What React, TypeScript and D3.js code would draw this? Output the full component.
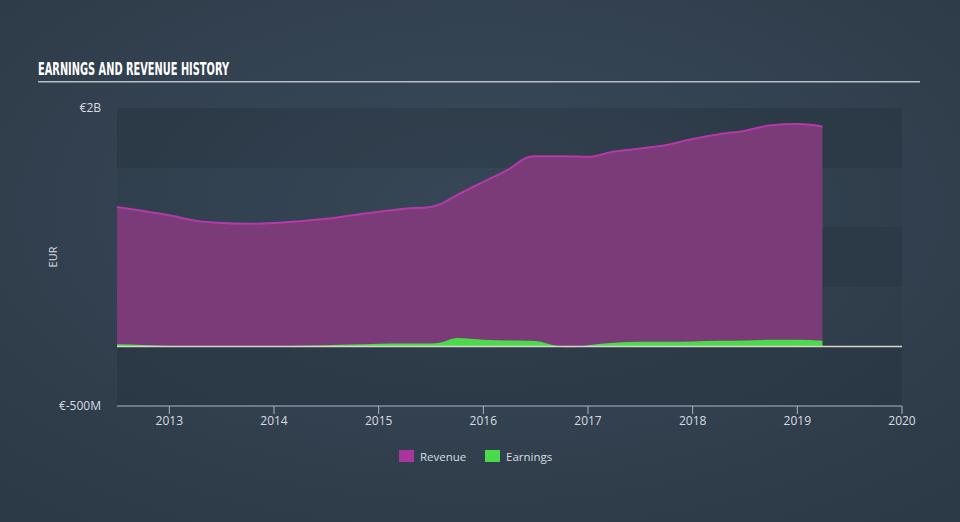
import React from "react";
import * as d3 from "d3";

const dates: number[] = [2012.5, 2012.75, 2013.0, 2013.25, 2013.5, 2013.75, 2014.0, 2014.25, 2014.5, 2014.75, 2015.0, 2015.25, 2015.5, 2015.58, 2015.75, 2016.0, 2016.25, 2016.42, 2016.5, 2016.7, 2016.83, 2017.0, 2017.25, 2017.5, 2017.75, 2018.0, 2018.25, 2018.5, 2018.75, 2019.0, 2019.24];
const revenue: number[] = [1.17, 1.135, 1.1, 1.055, 1.035, 1.028, 1.035, 1.05, 1.07, 1.1, 1.13, 1.155, 1.17, 1.19, 1.27, 1.38, 1.49, 1.585, 1.595, 1.596, 1.594, 1.59, 1.635, 1.66, 1.69, 1.74, 1.78, 1.81, 1.855, 1.865, 1.845];
const earnings: number[] = [0.018, 0.012, 0.003, -0.003, -0.006, -0.006, 0.0, 0.005, 0.01, 0.015, 0.022, 0.025, 0.025, 0.03, 0.07, 0.055, 0.05, 0.048, 0.046, 0.005, -0.008, 0.01, 0.03, 0.038, 0.04, 0.042, 0.047, 0.05, 0.055, 0.056, 0.048];
const yTicks: number[] = [2, -0.5];
const yTickLabels: string[] = ["€2B", "€-500M"];
const xTicks: number[] = [2013, 2014, 2015, 2016, 2017, 2018, 2019, 2020];
const bandEdges: number[] = [2, 1.5, 1, 0.5, 0, -0.5];
const legendItems: string[] = ["Revenue", "Earnings"];

export default function App() {
  const W = 960, H = 522;
  const x = d3.scaleLinear().domain([2012.5, 2020]).range([117, 902]);
  const y = d3.scaleLinear().domain([-0.5, 2]).range([406, 108]);
  const pts = dates.map((d, i) => ({ d, r: revenue[i], e: earnings[i] }));
  const curve = d3.curveMonotoneX;
  const revArea = d3.area<any>().x(p => x(p.d)).y0(y(0)).y1(p => y(p.r)).curve(curve)(pts) || "";
  const revLine = d3.line<any>().x(p => x(p.d)).y(p => y(p.r)).curve(curve)(pts) || "";
  const earnArea = d3.area<any>().x(p => x(p.d)).y0(y(0)).y1(p => y(p.e)).curve(curve)(pts) || "";
  const font = "'Open Sans', sans-serif";
  const [x0, x1] = x.range();
  return (
    <svg width={W} height={H} style={{ position: "absolute", left: 0, top: 0 }} xmlns="http://www.w3.org/2000/svg">
      <defs>
        <radialGradient id="bg" cx="50%" cy="40%" r="75%">
          <stop offset="0%" stopColor="#3a4a5b" />
          <stop offset="100%" stopColor="#2c3946" />
        </radialGradient>
        <clipPath id="pos"><rect x={x0} y={0} width={x1 - x0} height={y(0)} /></clipPath>
        <clipPath id="neg"><rect x={x0} y={y(0)} width={x1 - x0} height={H - y(0)} /></clipPath>
      </defs>
      <rect x={0} y={0} width={W} height={H} fill="url(#bg)" />
      {bandEdges.slice(0, -1).map((b, i) => (
        <rect key={i} x={x0} y={y(b)} width={x1 - x0} height={y(bandEdges[i + 1]) - y(b)}
          fill={i % 2 === 0 ? "rgba(20,30,42,0.2)" : "rgba(20,30,42,0.06)"} />
      ))}
      <text x={38} y={75} fill="#ffffff" fontFamily="'Liberation Sans Narrow', 'DejaVu Sans Condensed', sans-serif" fontWeight="bold" fontSize={17} textLength={191} lengthAdjust="spacingAndGlyphs">EARNINGS AND REVENUE HISTORY</text>
      <rect x={38} y={81} width={882} height={1.5} fill="#b8bec6" />
      <path d={revArea} fill="#7b3a78" />
      <path d={revLine} fill="none" stroke="#b33aa8" strokeWidth={2} />
      <path d={earnArea} fill="#4cd94c" clipPath="url(#pos)" />
      <path d={earnArea} fill="#d8553a" clipPath="url(#neg)" />
      <line x1={x0} x2={x1} y1={y(0)} y2={y(0)} stroke="#d6d6c8" strokeWidth={1.5} />
      {yTicks.map((t, i) => (
        <text key={t} x={101} y={y(t) + 4} textAnchor="end" fill="#d8dce0" fontFamily={font} fontSize={12}>{yTickLabels[i]}</text>
      ))}
      <text transform={`translate(57,${y(0.75)}) rotate(-90)`} textAnchor="middle" fill="#d8dce0" fontFamily={font} fontSize={11}>EUR</text>
      <line x1={x0} x2={x1} y1={406} y2={406} stroke="#a9b6c4" strokeWidth={1} />
      {xTicks.map(t => (
        <g key={t}>
          <line x1={x(t)} x2={x(t)} y1={406} y2={414} stroke="#a9b6c4" strokeWidth={1} />
          <text x={x(t)} y={425} textAnchor="middle" fill="#d8dce0" fontFamily={font} fontSize={12}>{t}</text>
        </g>
      ))}
      {legendItems.map((l, i) => {
        const lx = i === 0 ? 399 : 485;
        return (
          <g key={l}>
            <rect x={lx} y={450} width={15} height={12} fill={i === 0 ? "#a8369e" : "#4cd94c"} />
            <text x={lx + 21} y={461} fill="#d8dce0" fontFamily={font} fontSize={11.5}>{l}</text>
          </g>
        );
      })}
    </svg>
  );
}
